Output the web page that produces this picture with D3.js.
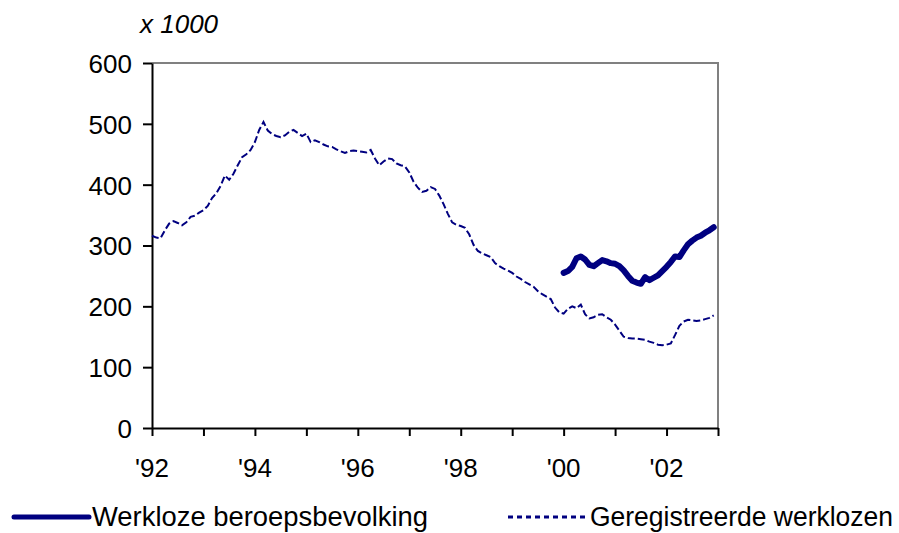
<!DOCTYPE html>
<html>
<head>
<meta charset="utf-8">
<script src="https://cdn.jsdelivr.net/npm/d3@7"></script>
<style>
  html, body { margin: 0; padding: 0; background: #fff; overflow: hidden; }
  svg { display: block; }
  text { font-family: "Liberation Sans", Arial, sans-serif; fill: #000; }
</style>
</head>
<body>
<svg width="899" height="533"></svg>
<script>
// Geregistreerde werklozen, monthly Jan 1992 - Dec 2002 (x 1000)
const registered = [
  316, 313, 312, 325, 336, 340, 337, 333, 338, 347, 349, 354, // 1992
  358, 365, 378, 386, 398, 415, 408, 418, 432, 445, 450, 457, // 1993
  470, 490, 503, 489, 483, 480, 478, 481, 487, 490, 485, 480, // 1994
  484, 470, 473, 470, 466, 463, 462, 458, 455, 452, 455, 456, // 1995
  455, 454, 453, 457, 443, 432, 438, 443, 442, 435, 432, 430, // 1996
  420, 405, 395, 388, 390, 396, 393, 382, 368, 352, 338, 334, // 1997
  332, 329, 318, 301, 291, 287, 284, 281, 271, 266, 262, 259, // 1998
  255, 249, 245, 240, 236, 232, 225, 220, 216, 212, 198, 190, // 1999
  188, 196, 200, 197, 203, 187, 180, 182, 186, 187, 182, 178, // 2000
  170, 160, 150, 148, 147, 147, 146, 145, 142, 140, 137, 136, // 2001
  137, 139, 153, 168, 175, 178, 177, 176, 177, 179, 181, 185  // 2002
];
const registeredStart = 1992;

// Werkloze beroepsbevolking, monthly Jan 2000 - Dec 2002 (x 1000)
const labourForce = [
  255, 258, 265, 279, 282, 277, 268, 266, 271, 276, 274, 271, // 2000
  270, 266, 259, 250, 242, 239, 237, 248, 243, 247, 251, 258, // 2001
  265, 273, 282, 281, 292, 302, 308, 313, 316, 321, 325, 330  // 2002
];
const labourForceStart = 2000;

const yTicks = [0, 100, 200, 300, 400, 500, 600];
const yearTicks = d3.range(1992, 2004);
const labelYears = [1992, 1994, 1996, 1998, 2000, 2002];
const yearLabels = ["'92", "'94", "'96", "'98", "'00", "'02"];
const seriesNames = ["Werkloze beroepsbevolking", "Geregistreerde werklozen"];

const navy = "#000080";
const svg = d3.select("svg");

const margin = { top: 63, left: 152, right: 181, bottom: 105 };
const innerWidth = 899 - margin.left - margin.right;
const innerHeight = 533 - margin.top - margin.bottom;

const x = d3.scaleLinear().domain([1992, 2003]).range([0, innerWidth]);
const y = d3.scaleLinear().domain([0, 600]).range([innerHeight, 0]);

const g = svg.append("g").attr("transform", `translate(${margin.left},${margin.top})`);

// grey frame on top and right
g.append("path")
  .attr("d", `M0,0H${innerWidth}V${innerHeight}`)
  .attr("fill", "none")
  .attr("stroke", "#808080")
  .attr("stroke-width", 2);

// y axis
const yAxis = g.append("g")
  .attr("class", "y-axis")
  .call(d3.axisLeft(y).tickValues(yTicks).tickSize(9).tickPadding(11).tickSizeOuter(0));
yAxis.attr("font-size", 26);
yAxis.select(".domain").attr("stroke-width", 2);
yAxis.selectAll(".tick line").attr("stroke-width", 2);
yAxis.selectAll(".tick text")
  .attr("font-size", 26)
  .attr("dy", "0.36em");

// x axis: a tick every year, a label every other year
const xAxis = g.append("g")
  .attr("transform", `translate(0,${innerHeight})`)
  .call(d3.axisBottom(x).tickValues(yearTicks).tickSize(8).tickSizeOuter(0));
xAxis.select(".domain").attr("stroke-width", 2);
xAxis.selectAll(".tick line").attr("stroke-width", 2);
xAxis.selectAll(".tick text").remove();

xAxis.selectAll(".year-label")
  .data(labelYears)
  .enter()
  .append("text")
  .attr("class", "year-label")
  .attr("x", (d) => x(d))
  .attr("y", 49)
  .attr("text-anchor", "middle")
  .attr("font-size", 26)
  .text((d, i) => yearLabels[i]);

// unit label
svg.append("text")
  .attr("x", 140)
  .attr("y", 33)
  .attr("font-size", 26)
  .attr("font-style", "italic")
  .text("x 1000");

const line = (start) => d3.line()
  .x((d, i) => x(start + i / 12))
  .y((d) => y(d));

g.append("path")
  .datum(registered)
  .attr("d", line(registeredStart))
  .attr("fill", "none")
  .attr("stroke", navy)
  .attr("stroke-width", 2)
  .attr("stroke-dasharray", "7,3");

g.append("path")
  .datum(labourForce)
  .attr("d", line(labourForceStart))
  .attr("fill", "none")
  .attr("stroke", navy)
  .attr("stroke-width", 6)
  .attr("stroke-linejoin", "round")
  .attr("stroke-linecap", "round");

// legend
const legend = svg.append("g");
legend.append("line")
  .attr("x1", 14).attr("x2", 89).attr("y1", 517).attr("y2", 517)
  .attr("stroke", navy).attr("stroke-width", 5).attr("stroke-linecap", "round");
legend.append("text")
  .attr("x", 92).attr("y", 526)
  .attr("textLength", 336).attr("lengthAdjust", "spacingAndGlyphs")
  .attr("font-size", 27)
  .text(seriesNames[0]);
legend.append("line")
  .attr("x1", 508).attr("x2", 586).attr("y1", 517).attr("y2", 517)
  .attr("stroke", navy).attr("stroke-width", 3).attr("stroke-dasharray", "5,4");
legend.append("text")
  .attr("x", 590).attr("y", 526)
  .attr("textLength", 303).attr("lengthAdjust", "spacingAndGlyphs")
  .attr("font-size", 27)
  .text(seriesNames[1]);
</script>
</body>
</html>
